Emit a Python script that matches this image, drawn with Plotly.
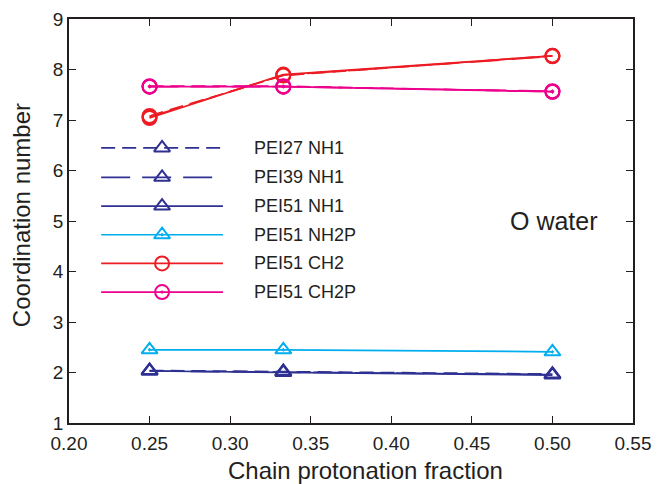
import plotly.graph_objects as go

# ---- data ----
x_frac = [0.25, 0.333, 0.50]
pei27_nh1 = [2.04, 2.02, 1.97]
pei39_nh1 = [2.03, 2.01, 1.96]
pei51_nh1 = [2.03, 2.00, 1.95]
pei51_nh2p = [2.45, 2.45, 2.41]
pei51_ch2 = [7.04, 7.90, 8.27]
pei51_ch2p = [7.66, 7.66, 7.56]
# series drawn but not shown in the legend
pei27_ch2 = [7.08, 7.88, 8.27]
pei39_ch2 = [7.06, 7.89, 8.26]
pei27_ch2p = [7.67, 7.67, 7.56]
pei39_ch2p = [7.66, 7.66, 7.57]

x_ticks = [0.20, 0.25, 0.30, 0.35, 0.40, 0.45, 0.50, 0.55]
y_ticks = [1, 2, 3, 4, 5, 6, 7, 8, 9]
x_title = "Chain protonation fraction"
y_title = "Coordination number"

NAVY = "#2e3192"
CYAN = "#00aeef"
RED = "#ed1c24"
MAG = "#ec008c"
INK = "#231f20"
FONT = "Liberation Sans, Arial, sans-serif"

series = [
    ("PEI27 NH1", pei27_nh1, NAVY, "14px,7px", "triangle-up-open", True),
    ("PEI39 NH1", pei39_nh1, NAVY, "29px,12px", "triangle-up-open", True),
    ("PEI51 NH1", pei51_nh1, NAVY, "solid", "triangle-up-open", True),
    ("PEI51 NH2P", pei51_nh2p, CYAN, "solid", "triangle-up-open-dot", True),
    ("PEI27 CH2", pei27_ch2, RED, "14px,7px", "circle-open", False),
    ("PEI39 CH2", pei39_ch2, RED, "29px,12px", "circle-open", False),
    ("PEI51 CH2", pei51_ch2, RED, "solid", "circle-open", True),
    ("PEI27 CH2P", pei27_ch2p, MAG, "14px,7px", "circle-open-dot", False),
    ("PEI39 CH2P", pei39_ch2p, MAG, "29px,12px", "circle-open-dot", False),
    ("PEI51 CH2P", pei51_ch2p, MAG, "solid", "circle-open-dot", True),
]

fig = go.Figure()
for name, ys, col, dash, sym, _ in series:
    fig.add_trace(go.Scatter(
        x=x_frac, y=ys, mode="lines+markers", name=name, showlegend=False,
        line=dict(color=col, width=1.7, dash=dash),
        marker=dict(symbol=sym, size=14, color=col, line=dict(color=col, width=2)),
    ))

# ---- hand-drawn legend on an overlay axis (0..1 both ways) ----
legend_items = [s for s in series if s[5]]
leg_x0, leg_xm, leg_x1, leg_tx = 0.057, 0.165, 0.273, 0.324
leg_rows = [0.681, 0.608, 0.537, 0.466, 0.395, 0.324]
for (name, _, col, dash, sym, _), yy in zip(legend_items, leg_rows):
    fig.add_trace(go.Scatter(
        x=[leg_x0, leg_x1], y=[yy, yy], mode="lines", showlegend=False,
        xaxis="x2", yaxis="y2", line=dict(color=col, width=1.7, dash=dash),
        hoverinfo="skip",
    ))
    fig.add_trace(go.Scatter(
        x=[leg_xm], y=[yy], mode="markers", showlegend=False,
        xaxis="x2", yaxis="y2",
        marker=dict(symbol=sym, size=14, color=col, line=dict(color=col, width=2)),
        hoverinfo="skip",
    ))
    fig.add_annotation(x=leg_tx, y=yy, xref="x2", yref="y2", text=name,
                       showarrow=False, xanchor="left", yanchor="middle",
                       font=dict(family=FONT, size=18, color=INK))

fig.add_annotation(x=0.860, y=0.50, xref="paper", yref="paper", text="O water",
                   showarrow=False, xanchor="center", yanchor="middle",
                   font=dict(family=FONT, size=25, color=INK))

# axis titles placed as annotations to match the reference offsets
fig.add_annotation(x=0.525, y=-0.117, xref="paper", yref="paper", text=x_title,
                   showarrow=False, xanchor="center", yanchor="middle",
                   font=dict(family=FONT, size=24, color=INK))
fig.add_annotation(x=-0.083, y=0.515, xref="paper", yref="paper", text=y_title,
                   showarrow=False, xanchor="center", yanchor="middle",
                   textangle=-90, font=dict(family=FONT, size=24, color=INK))

axis_common = dict(
    showline=True, linecolor=INK, linewidth=1.5, mirror="ticks",
    ticks="inside", ticklen=7, tickwidth=1.2, tickcolor=INK,
    showgrid=False, zeroline=False, automargin=False,
    tickfont=dict(family=FONT, size=19, color=INK),
)

fig.update_layout(
    width=657, height=484,
    margin=dict(l=69, r=24, t=19, b=61),
    paper_bgcolor="white", plot_bgcolor="white",
    showlegend=False,
    xaxis=dict(range=[0.2, 0.55], tickvals=x_ticks,
               ticktext=[f"{v:.2f}" for v in x_ticks],
               ticklabelstandoff=2, **axis_common),
    yaxis=dict(range=[1, 9], tickvals=y_ticks, **axis_common),
    xaxis2=dict(range=[0, 1], overlaying="x", visible=False),
    yaxis2=dict(range=[0, 1], overlaying="y", visible=False),
)

fig.write_html("out.html")
